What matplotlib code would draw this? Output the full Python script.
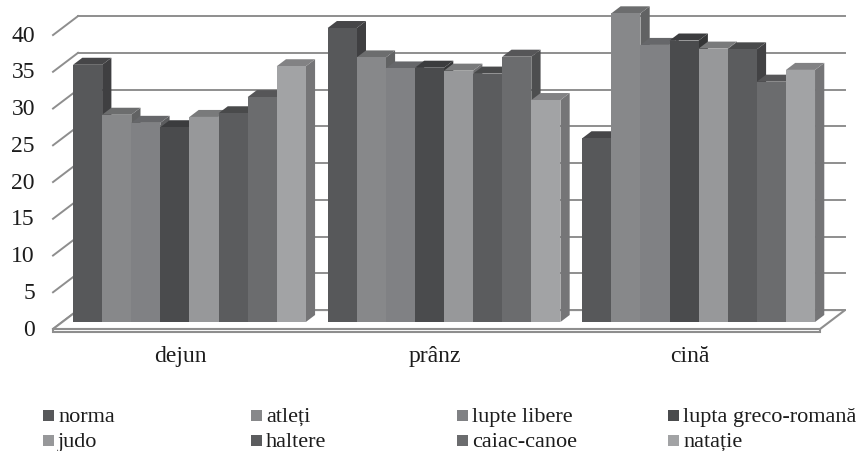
import numpy as np
import matplotlib.pyplot as plt
from matplotlib.patches import Polygon, Rectangle
from matplotlib.colors import to_rgb

plt.rcParams['font.family'] = ['Liberation Serif', 'DejaVu Serif']

mese = ['dejun', 'prânz', 'cină']
sporturi = ['norma', 'atleți', 'lupte libere', 'lupta greco-romană',
            'judo', 'haltere', 'caiac-canoe', 'natație']

norma = [35.0, 40.0, 25.0]
atleti = [28.2, 36.0, 42.0]
lupte_libere = [27.1, 34.5, 37.7]
lupta_greco = [26.5, 34.6, 38.3]
judo = [27.9, 34.2, 37.2]
haltere = [28.4, 33.8, 37.1]
caiac = [30.6, 36.1, 32.7]
natatie = [34.8, 30.2, 34.3]
valori = [norma, atleti, lupte_libere, lupta_greco, judo, haltere, caiac, natatie]

culori = ['#57585a', '#87888a', '#808184', '#4a4b4d',
          '#97989a', '#5b5c5e', '#6b6c6e', '#a2a3a5']
ticks = np.arange(0, 41, 5)

# pseudo-3D projection: depth d goes from 0 (front of floor) to 1 (back wall)
OX, OY = 0.86, 2.58
D_FRONT, D_BACK = 0.37, 0.74
GROUP = 8.75
x_left, x_right = -0.37, 25.99
grila = '#8e8e8e'
text_col = '#1c1c1c'


def proj(x, v, d):
    return (x + (d - D_FRONT) * OX, v + (d - D_FRONT) * OY)


def umbra(c, f):
    return tuple(np.array(to_rgb(c)) * f)


fig = plt.figure(figsize=(8.61, 4.52), dpi=100)
ax = fig.add_axes([0, 0, 1, 1])
ax.set_xlim(-2.51, 27.08)
ax.set_ylim(-17.55, 43.95)
ax.axis('off')

# floor slab
podea = [proj(x_left, 0, 0), proj(x_right, 0, 0), proj(x_right, 0, 1), proj(x_left, 0, 1)]
ax.add_patch(Polygon(podea, closed=True, fc='white', ec=grila, lw=1.5, zorder=1))
fata = [proj(x_left, 0, 0), proj(x_right, 0, 0), proj(x_right, -0.45, 0), proj(x_left, -0.45, 0)]
ax.add_patch(Polygon(fata, closed=True, fc='white', ec=grila, lw=1.5, zorder=1))

# back wall gridlines, side wall diagonals and value labels
for v in ticks:
    a, b = proj(x_left, v, 1), proj(x_right, v, 1)
    ax.plot([a[0], b[0]], [a[1], b[1]], color=grila, lw=1.4, zorder=0)
    c = proj(x_left, v, 0)
    ax.plot([c[0], a[0]], [c[1], a[1]], color=grila, lw=1.4, zorder=0)
    ax.text(c[0] - 0.62, c[1], str(v), ha='right', va='center', fontsize=17, color=text_col)

# bars
z = 2
for g in range(len(mese)):
    for i, serie in enumerate(valori):
        x0 = g * GROUP + i
        x1 = x0 + 1
        v = serie[g]
        col = culori[i]
        front = [proj(x0, 0, D_FRONT), proj(x1, 0, D_FRONT), proj(x1, v, D_FRONT), proj(x0, v, D_FRONT)]
        top = [proj(x0, v, D_FRONT), proj(x1, v, D_FRONT), proj(x1, v, D_BACK), proj(x0, v, D_BACK)]
        side = [proj(x1, 0, D_FRONT), proj(x1, 0, D_BACK), proj(x1, v, D_BACK), proj(x1, v, D_FRONT)]
        ax.add_patch(Polygon(side, closed=True, fc=umbra(col, 0.72), lw=0, zorder=z))
        ax.add_patch(Polygon(top, closed=True, fc=umbra(col, 0.8), lw=0, zorder=z))
        ax.add_patch(Polygon(front, closed=True, fc=col, lw=0, zorder=z + 0.5))
        z += 1
    cx, cy = proj(g * GROUP + len(valori) / 2, 0, 0)
    ax.text(cx, -4.5, mese[g], ha='center', va='center', fontsize=17, color=text_col)

# legend, 4 columns x 2 rows
W, H = 861.0, 452.0
col_x = [43, 251, 457, 668]
row_y = [422, 447]
for i, nume in enumerate(sporturi):
    px = col_x[i % 4]
    py = row_y[i // 4]
    fig.patches.append(Rectangle((px / W, 1 - py / H), 11 / W, 11 / H,
                                 transform=fig.transFigure, fc=culori[i], lw=0))
    fig.text((px + 15) / W, 1 - py / H, nume, ha='left', va='baseline',
             fontsize=16, color=text_col)

fig.savefig('out.png', dpi=100)
